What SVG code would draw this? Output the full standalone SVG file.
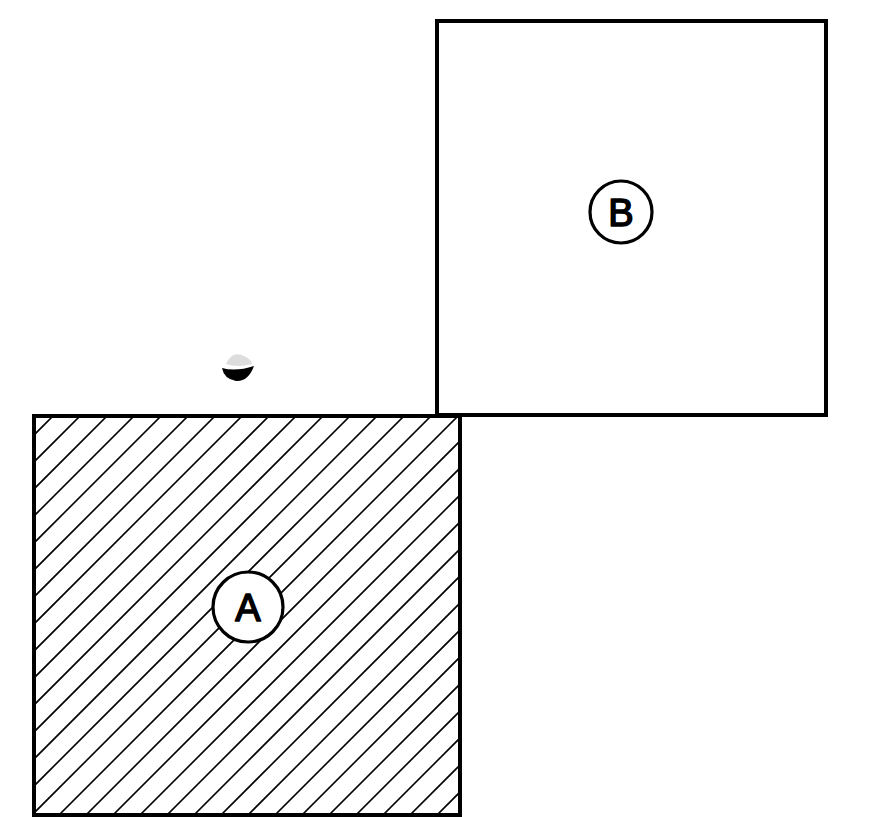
<svg xmlns="http://www.w3.org/2000/svg" width="886" height="817" viewBox="0 0 886 817">
<style>
.box{fill:none;stroke:#000;stroke-width:4}
.hatch{stroke:#000;stroke-width:1.6}
.lbl{fill:#fff;stroke:#000;stroke-width:3.2}
.t{font-family:"Liberation Sans",Arial,sans-serif;font-size:38px;text-anchor:middle;fill:#000;stroke:#000;stroke-width:1.6;stroke-linejoin:round}
</style>
<defs>
<clipPath id="clipA"><rect x="34" y="416" width="426" height="399"/></clipPath>
</defs>
<rect width="886" height="817" fill="#fff"/>
<g id="A">
<g clip-path="url(#clipA)" class="hatch">
<path d="M0,469 L469,0 M0,496 L496,0 M0,523 L523,0 M0,550 L550,0 M0,577 L577,0 M0,604 L604,0 M0,631 L631,0 M0,658 L658,0 M0,685 L685,0 M0,712 L712,0 M0,739 L739,0 M0,766 L766,0 M0,793 L793,0 M0,820 L820,0 M0,847 L847,0 M0,874 L874,0 M0,901 L901,0 M0,928 L928,0 M0,955 L955,0 M0,982 L982,0 M0,1009 L1009,0 M0,1036 L1036,0 M0,1063 L1063,0 M0,1090 L1090,0 M0,1117 L1117,0 M0,1144 L1144,0 M0,1171 L1171,0 M0,1198 L1198,0 M0,1225 L1225,0 M0,1252 L1252,0 M0,1279 L1279,0"/>
</g>
<rect class="box" x="34" y="416" width="426" height="399"/>
<circle class="lbl" cx="248" cy="607" r="35"/>
<text class="t" x="248" y="621">A</text>
</g>
<g id="B">
<rect class="box" x="437" y="21" width="389" height="394"/>
<circle class="lbl" cx="621" cy="212" r="31"/>
<text class="t" x="621" y="226">B</text>
</g>
<g id="mark">
<path d="M222,368 Q236,372 254,366 Q248,382 236,381 Q224,379 222,368 Z" fill="#000"/>
<path d="M226,364 Q232,350 244,356 Q252,360 252,364 Q238,368 226,364 Z" fill="#ddd"/>
</g>
<g id="connectors"/>
</svg>
